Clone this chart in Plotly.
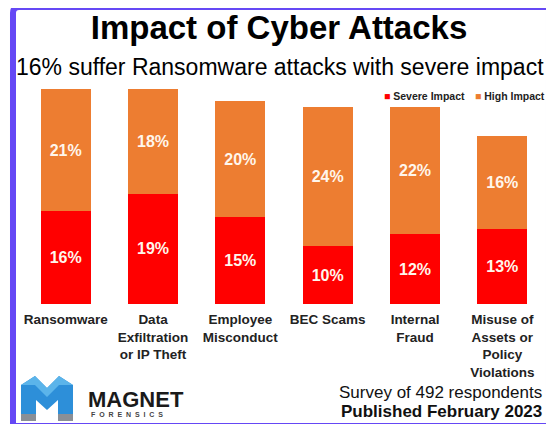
import plotly.graph_objects as go

categories = ["Ransomware", "Data<br>Exfiltration<br>or IP Theft", "Employee<br>Misconduct",
              "BEC Scams", "Internal<br>Fraud", "Misuse of<br>Assets or<br>Policy<br>Violations"]
severe = [16, 19, 15, 10, 12, 13]
high = [21, 18, 20, 24, 22, 16]
series_names = ["Severe Impact", "High Impact"]
title = "Impact of Cyber Attacks"
subtitle = "16% suffer Ransomware attacks with severe impact"
footer = ["Survey of 492 respondents", "Published February 2023"]

RED = "#ff0000"
ORANGE = "#ed7d31"
BORDER = "#6548f5"
FONT = "Liberation Sans, Arial, sans-serif"

# the page body keeps its 8px margin; size the figure so the page does not scroll
OFF = 8
W, H = 554 - 2 * OFF, 432 - 2 * OFF
L, R, T, B = 14, 0, 80, 120
PW, PH = W - L - R, H - T - B


def px(x):
    # x given in window pixels
    return (x - OFF - L) / PW


def py(y):
    return (H - B - (y - OFF)) / PH


fig = go.Figure()
for vals, name, col in [(severe, series_names[0], RED), (high, series_names[1], ORANGE)]:
    fig.add_trace(go.Bar(
        x=categories, y=vals, name=name, marker=dict(color=col, line=dict(width=0)),
        texttemplate="%{y}%", textposition="inside", insidetextanchor="middle",
        textangle=0, textfont=dict(family=FONT, size=16, color="#fff6ec", weight="bold"),
        showlegend=False,
    ))

fig.update_layout(
    width=W, height=H, barmode="stack", bargap=0.43,
    margin=dict(l=L, r=R, t=T, b=B),
    paper_bgcolor="white", plot_bgcolor="white",
    title=dict(text="<b>" + title + "</b>", x=(279 - OFF) / W, xanchor="center",
               y=1 - (27 - OFF) / H, yanchor="middle", font=dict(family=FONT, size=33, color="#000")),
    xaxis=dict(showline=False, showgrid=False, ticks="outside", ticklen=3, tickcolor="rgba(0,0,0,0)",
               tickfont=dict(family=FONT, size=13.5, color="#222", weight="bold"),
               range=[-0.5, 5.5]),
    yaxis=dict(visible=False, range=[0, PH / 5.8]),
)

anns = [
    dict(text=subtitle, x=px(280), y=py(67), font=dict(family=FONT, size=23, color="#000")),
    dict(text="<span style='color:%s'>■</span> <b>%s</b>" % (RED, series_names[0]),
         x=px(382), y=py(96), xanchor="left", font=dict(family=FONT, size=10.5, color="#222")),
    dict(text="<span style='color:%s'>■</span> <b>%s</b>" % (ORANGE, series_names[1]),
         x=px(473), y=py(96), xanchor="left", font=dict(family=FONT, size=10.5, color="#222")),
    dict(text=footer[0], x=px(544), y=py(392), xanchor="right", font=dict(family=FONT, size=17, color="#111")),
    dict(text="<b>" + footer[1] + "</b>", x=px(544), y=py(411), xanchor="right",
         font=dict(family=FONT, size=17, color="#111")),
    dict(text="<b>MAGNET</b>", x=px(86), y=py(399), xanchor="left",
         font=dict(family=FONT, size=22, color="#1a1a1a")),
    dict(text="<b>" + "\u00a0\u00a0".join("FORENSICS") + "</b>", x=px(89), y=py(414), xanchor="left",
         font=dict(family=FONT, size=7, color="#444")),
]
for a in anns:
    a.update(xref="paper", yref="paper", showarrow=False, yanchor="middle",
             xanchor=a.get("xanchor", "center"))
    fig.add_annotation(**a)


def path(points):
    return "M " + " L ".join("%f,%f" % (px(x), py(y)) for x, y in points) + " Z"


# logo mark
fig.add_shape(type="path", xref="paper", yref="paper", line=dict(width=0), fillcolor="#2d8fd9",
              path=path([(21, 385), (35, 376), (47, 388), (59, 376), (73, 385), (73, 421), (58, 421),
                         (58, 400), (47, 410), (36, 400), (36, 421), (21, 421)]))
fig.add_shape(type="path", xref="paper", yref="paper", line=dict(width=0), fillcolor="#5bb4ea",
              path=path([(21, 385), (35, 376), (47, 388), (59, 376), (73, 385), (59, 385), (47, 397), (35, 385)]))
fig.add_shape(type="path", xref="paper", yref="paper", line=dict(width=0), fillcolor="#8a8f96",
              path=path([(21, 414), (36, 414), (36, 421), (21, 421)]))
fig.add_shape(type="path", xref="paper", yref="paper", line=dict(width=0), fillcolor="#8a8f96",
              path=path([(58, 414), (73, 414), (73, 421), (58, 421)]))

# frame
fig.add_shape(type="path", xref="paper", yref="paper", line=dict(color=BORDER, width=6),
              path="M %f,%f L %f,%f Q %f,%f %f,%f L %f,%f L %f,%f Z" % (
                  px(13), py(426), px(13), py(13), px(13), py(7), px(19), py(7),
                  px(549), py(7), px(549), py(426)))

fig.write_html("out.html")
